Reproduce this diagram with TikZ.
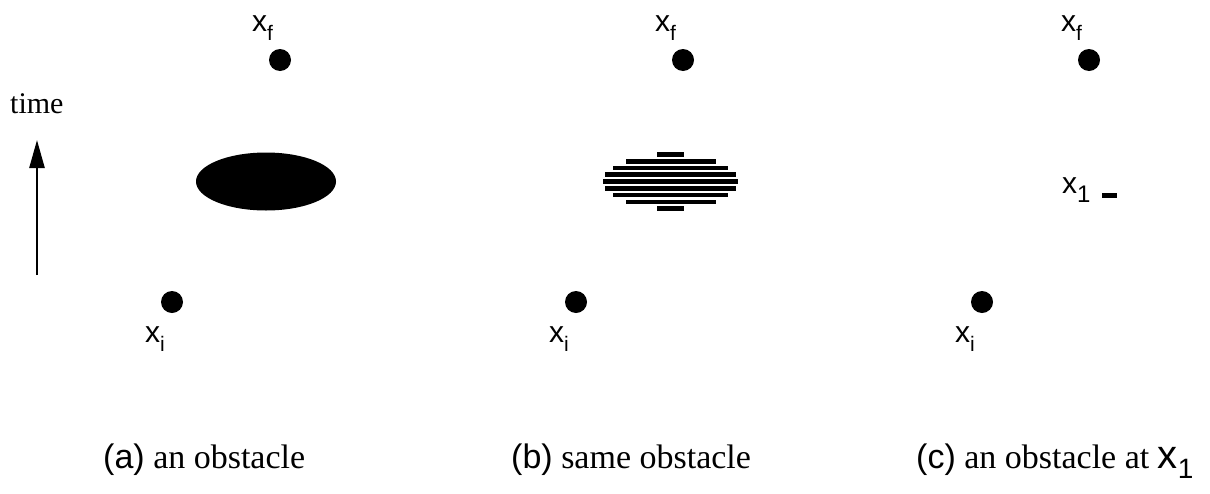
\documentclass[tikz,border=0pt]{standalone}
\usepackage{fontspec}
\setmainfont{Liberation Serif}
\newfontfamily\hv{Liberation Sans}
\usetikzlibrary{arrows.meta}
\newcommand{\xlab}[3]{{\hv\fontsize{30}{30}\selectfont x\raisebox{-#3pt}{\fontsize{#2}{#2}\selectfont #1}}}
\tikzset{
  dot/.style={circle,fill=black,inner sep=0pt,minimum size=22pt},
  lab/.style={anchor=base west,inner sep=0pt},
  captxt/.style={anchor=base west,inner sep=0pt,font=\fontsize{34}{34}\selectfont},
  bar/.style={fill=black,draw=none}
}
\begin{document}
\begin{tikzpicture}[x=1pt,y=-1pt]
\useasboundingbox (0,0) rectangle (1210,493);
% time axis
\node[lab,font=\fontsize{30}{30}\selectfont] (time) at (10,113) {time};
\coordinate (tb) at (37,275);
\coordinate (tt) at (37,140);
\draw[line width=2.5pt,-{Triangle[length=28pt,width=15pt]}] (tb) -- (tt);
% panel a
\node[dot] (fa) at (280,60) {};
\node[dot] (ia) at (172,302) {};
\node[lab] (xfa) at (252,31) {\xlab{f}{21}{9}};
\node[lab] (xia) at (145,342) {\xlab{i}{21}{9}};
\fill (266,181.5) ellipse [x radius=70,y radius=29];
% panel b
\node[dot] (fb) at (683,60) {};
\node[dot] (ib) at (576,302) {};
\node[lab] (xfb) at (655,31) {\xlab{f}{21}{9}};
\node[lab] (xib) at (549,342) {\xlab{i}{21}{9}};
\foreach \yy/\hw in {154.7/13.8,161.3/45,168/57.2,174.7/65.2,181.3/67.7,188.3/65.2,195/57.2,202/45,208.3/13.8}{
  \fill[bar] (670.6-\hw,\yy-2.3) rectangle (670.6+\hw,\yy+2.3);
}
% panel c
\node[dot] (fc) at (1089,60) {};
\node[dot] (ic) at (982,302) {};
\node[lab] (xfc) at (1061,31) {\xlab{f}{21}{9}};
\node[lab] (xic) at (955,342) {\xlab{i}{21}{9}};
\node[lab] (x1) at (1062,193) {\xlab{1}{24}{9}};
\fill (1101.7,193.3) rectangle (1116.7,197.7);
% captions
\node[captxt] (ca) at (103,468) {{\hv (a)} an obstacle};
\node[captxt] (cb) at (511,468) {{\hv (b)} same obstacle};
\node[captxt] (cc) at (916,468) {{\hv (c)} an obstacle at {\hv\fontsize{40}{40}\selectfont x\raisebox{-10pt}{\fontsize{28}{28}\selectfont 1}}};
\end{tikzpicture}
\end{document}
